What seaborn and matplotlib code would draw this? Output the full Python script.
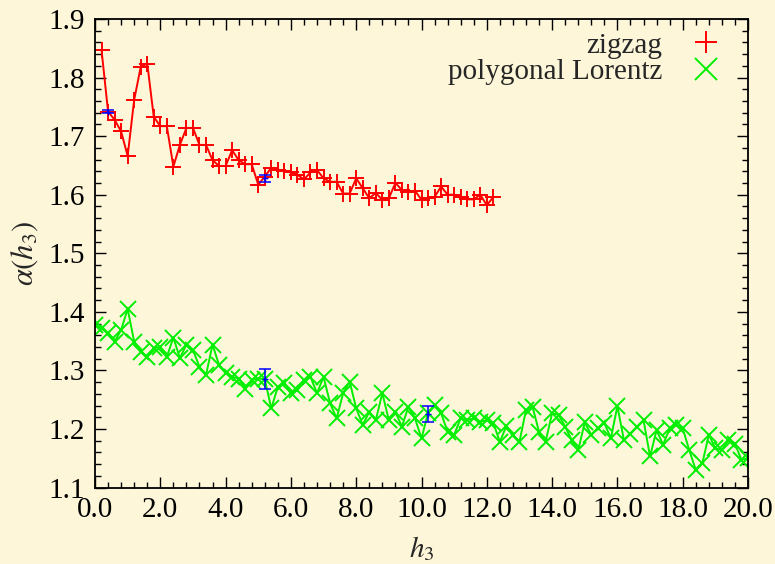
import numpy as np
import pandas as pd
import matplotlib
matplotlib.use("Agg")
import matplotlib.pyplot as plt
from matplotlib.lines import Line2D
from matplotlib.ticker import MultipleLocator, FormatStrFormatter
import seaborn as sns

# --- data -------------------------------------------------------------
zigzag_h3 = [0.2, 0.4, 0.6, 0.8, 1.0, 1.2, 1.4, 1.6, 1.8, 2.0, 2.2, 2.4, 2.6, 2.8,
             3.0, 3.2, 3.4, 3.6, 3.8, 4.0, 4.2, 4.4, 4.6, 4.8, 5.0, 5.2, 5.4, 5.6,
             5.8, 6.0, 6.2, 6.4, 6.6, 6.8, 7.0, 7.2, 7.4, 7.6, 7.8, 8.0, 8.2, 8.4,
             8.6, 8.8, 9.0, 9.2, 9.4, 9.6, 9.8, 10.0, 10.2, 10.4, 10.6, 10.8, 11.0,
             11.2, 11.4, 11.6, 11.8, 12.0, 12.2]
zigzag_alpha = [1.847, 1.742, 1.728, 1.708, 1.666, 1.762, 1.818, 1.824, 1.733, 1.717,
                1.717, 1.648, 1.685, 1.714, 1.714, 1.685, 1.685, 1.659, 1.649, 1.649,
                1.676, 1.659, 1.652, 1.652, 1.617, 1.631, 1.646, 1.643, 1.640, 1.638,
                1.634, 1.626, 1.638, 1.642, 1.628, 1.622, 1.622, 1.602, 1.602, 1.628,
                1.611, 1.594, 1.603, 1.591, 1.594, 1.620, 1.608, 1.605, 1.607, 1.591,
                1.594, 1.596, 1.614, 1.600, 1.600, 1.596, 1.592, 1.592, 1.600, 1.582,
                1.596]

lorentz_h3 = [round(0.2 * i, 1) for i in range(101)]
lorentz_alpha = [1.377, 1.372, 1.363, 1.349, 1.369, 1.405, 1.349, 1.332, 1.323, 1.338,
                 1.340, 1.323, 1.356, 1.321, 1.344, 1.335, 1.306, 1.292, 1.344, 1.309,
                 1.295, 1.289, 1.286, 1.269, 1.284, 1.286, 1.285, 1.235, 1.272, 1.278,
                 1.261, 1.266, 1.284, 1.289, 1.261, 1.289, 1.244, 1.218, 1.261, 1.281,
                 1.235, 1.207, 1.229, 1.215, 1.261, 1.215, 1.229, 1.204, 1.238, 1.218,
                 1.184, 1.227, 1.241, 1.227, 1.195, 1.190, 1.218, 1.215, 1.218, 1.212,
                 1.215, 1.210, 1.178, 1.205, 1.190, 1.178, 1.232, 1.238, 1.195, 1.178,
                 1.227, 1.224, 1.204, 1.181, 1.164, 1.211, 1.190, 1.201, 1.210, 1.184,
                 1.239, 1.181, 1.192, 1.204, 1.215, 1.153, 1.198, 1.173, 1.201, 1.207,
                 1.201, 1.164, 1.130, 1.141, 1.190, 1.167, 1.164, 1.181, 1.175, 1.147,
                 1.150]

# error estimates at selected heights
err_h3 = [0.4, 5.2, 5.2, 10.2]
err_alpha = [1.742, 1.628, 1.285, 1.226]
err_size = [0.003, 0.006, 0.017, 0.014]

series_names = ["zigzag", "polygonal Lorentz"]
x_ticks = [0.0, 2.0, 4.0, 6.0, 8.0, 10.0, 12.0, 14.0, 16.0, 18.0, 20.0]
y_ticks = [1.1, 1.2, 1.3, 1.4, 1.5, 1.6, 1.7, 1.8, 1.9]

# --- style ------------------------------------------------------------
bg = "#fdf6d8"
sns.set_style("ticks")
plt.rcParams["font.family"] = ["Liberation Serif", "DejaVu Serif"]
plt.rcParams["mathtext.fontset"] = "stix"
plt.rcParams["figure.facecolor"] = bg
plt.rcParams["axes.facecolor"] = bg

series_data = {
    series_names[0]: pd.DataFrame({"h3": zigzag_h3, "alpha": zigzag_alpha}),
    series_names[1]: pd.DataFrame({"h3": lorentz_h3, "alpha": lorentz_alpha}),
}
colors = {series_names[0]: "#ff0000", series_names[1]: "#00ee00"}
marks = {series_names[0]: "+", series_names[1]: "x"}

fig = plt.figure(figsize=(7.75, 5.64), dpi=100)
ax = fig.add_axes([95 / 775, 1 - 487.5 / 564, (748 - 95) / 775, (487.5 - 19) / 564])

for name in series_names:
    sns.lineplot(data=series_data[name], x="h3", y="alpha", color=colors[name],
                 marker=marks[name], markeredgecolor=colors[name],
                 markerfacecolor=colors[name], sort=False, estimator=None,
                 ax=ax, linewidth=1.4, markersize=11, markeredgewidth=1.4)

ax.errorbar(err_h3, err_alpha, yerr=err_size, fmt="+", color="#0000ff",
            markersize=4, elinewidth=1.1, capsize=4, capthick=1.1, zorder=5)

ax.set_xlim(0, 20)
ax.set_ylim(1.1, 1.9)
ax.set_xticks(x_ticks)
ax.set_yticks(y_ticks)
ax.xaxis.set_major_formatter(FormatStrFormatter("%.1f"))
ax.yaxis.set_major_formatter(FormatStrFormatter("%.1f"))
ax.xaxis.set_minor_locator(MultipleLocator(0.4))
ax.yaxis.set_minor_locator(MultipleLocator(0.02))
ax.tick_params(which="both", direction="in", top=True, right=True,
               labelsize=21, colors="black", width=1.0)
ax.tick_params(which="major", length=8, pad=7)
ax.tick_params(which="minor", length=4)
for sp in ax.spines.values():
    sp.set_linewidth(1.3)
    sp.set_color("black")

ax.set_xlabel("$h_3$", fontsize=21, labelpad=8)
ax.set_ylabel(r"$\alpha(h_3)$", fontsize=22, labelpad=6)

handles = [Line2D([], [], linestyle="none", marker=marks[n], color=colors[n],
                  markersize=16, markeredgewidth=1.4) for n in series_names]
ax.legend(handles, series_names, loc="upper right", frameon=False,
          markerfirst=False, fontsize=21, handlelength=1.2, handletextpad=0.9,
          labelspacing=0.0, borderaxespad=0.0, borderpad=0.0,
          bbox_to_anchor=(0.962, 0.972))

fig.savefig("out.png", dpi=100, facecolor=bg)
